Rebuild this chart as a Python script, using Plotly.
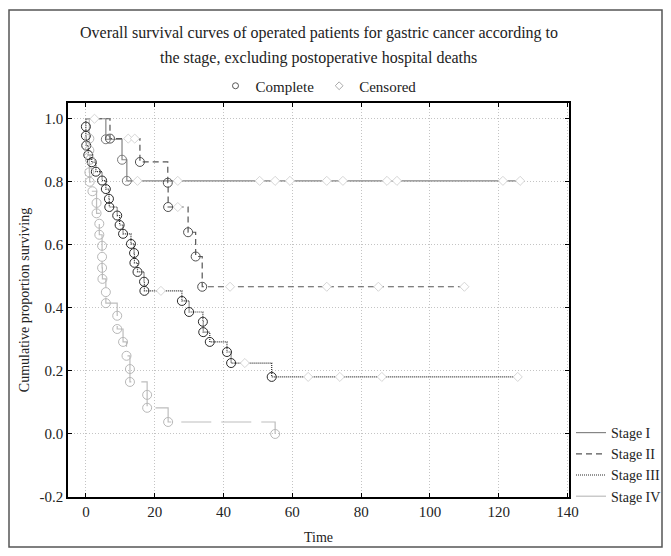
import plotly.graph_objects as go

# ---------------- data ----------------
stage_names = ["Stage I", "Stage II", "Stage III", "Stage IV"]

# Event (complete) times and survival after each event
s1_event_t = [5.8, 10.5, 11.9]
s1_event_s = [0.935, 0.870, 0.803]
s1_cens_t = [2.5, 15.0, 26.7, 50.5, 55.0, 59.3, 70.0, 74.7, 87.5, 90.4, 121.2, 126.2]
s1_cens_s = [1.0, 0.803, 0.803, 0.803, 0.803, 0.803, 0.803, 0.803, 0.803, 0.803, 0.803, 0.803]
s1_end = 126.5

s2_event_t = [7.0, 15.7, 23.8, 23.9, 29.7, 31.9, 33.8]
s2_event_s = [0.937, 0.863, 0.797, 0.720, 0.640, 0.563, 0.467]
s2_cens_t = [12.3, 14.2, 26.7, 41.9, 70.0, 85.0, 110.0]
s2_cens_s = [0.937, 0.937, 0.720, 0.467, 0.467, 0.467, 0.467]
s2_end = 110.0

s3_event_t = [0.0, 0.0, 0.1, 0.7, 1.7, 2.9, 4.7, 5.8, 6.7, 6.8, 9.1, 9.8, 10.8, 13.1,
              14.0, 14.1, 15.0, 16.9, 17.0, 27.9, 30.0, 34.0, 34.1, 36.0, 41.0, 42.2, 54.0]
s3_event_s = [0.975, 0.946, 0.915, 0.885, 0.862, 0.832, 0.804, 0.777, 0.746, 0.720,
              0.693, 0.663, 0.635, 0.603, 0.574, 0.543, 0.514, 0.483, 0.454, 0.422,
              0.387, 0.356, 0.323, 0.292, 0.260, 0.225, 0.181]
s3_cens_t = [21.8, 46.2, 64.6, 73.8, 86.0, 125.5]
s3_cens_s = [0.454, 0.225, 0.181, 0.181, 0.181, 0.181]
s3_end = 125.5

s4_event_t = [1.0, 1.0, 1.2, 1.0, 1.1, 1.9, 3.1, 3.1, 3.9, 3.9, 4.7, 4.7, 4.7, 4.8,
              5.8, 5.8, 9.1, 9.1, 10.8, 11.8, 12.8, 12.8, 17.8, 17.8, 23.9, 55.0]
s4_event_s = [0.937, 0.900, 0.870, 0.830, 0.800, 0.770, 0.733, 0.700, 0.667, 0.632,
              0.597, 0.562, 0.527, 0.492, 0.450, 0.415, 0.375, 0.333, 0.292, 0.248,
              0.206, 0.165, 0.124, 0.083, 0.038, 0.0]
s4_cens_t = []
s4_cens_s = []
s4_end = 55.0

x_ticks = [0, 20, 40, 60, 80, 100, 120, 140]
y_ticks = [-0.2, 0.0, 0.2, 0.4, 0.6, 0.8, 1.0]
y_tick_text = ["-0.2", "0.0", "0.2", "0.4", "0.6", "0.8", "1.0"]

title_line1 = "Overall survival curves of operated patients for gastric cancer according to"
title_line2 = "the stage, excluding postoperative hospital deaths"

# ---------------- styles ----------------
FONT = "Liberation Serif"
line_colors = ["#858585", "#555555", "#2a2a2a", "#bdbdbd"]
marker_colors = ["#7a7a7a", "#505050", "#2a2a2a", "#b8b8b8"]
dashes = ["solid", "6px,4px", "1px,1px", "30px,10px"]
widths = [1.2, 1.2, 1.2, 1.2]

series = [
    (s1_event_t, s1_event_s, s1_cens_t, s1_cens_s, s1_end),
    (s2_event_t, s2_event_s, s2_cens_t, s2_cens_s, s2_end),
    (s3_event_t, s3_event_s, s3_cens_t, s3_cens_s, s3_end),
    (s4_event_t, s4_event_s, s4_cens_t, s4_cens_s, s4_end),
]

# figure geometry (page body adds an 8px offset)
W, H = 655, 540
ML, MR, MT, MB = 60, 94, 95, 51
PW, PH = W - ML - MR, H - MT - MB


def px_to_paper_x(px):
    return (px - ML) / PW


def px_to_paper_y(py):
    return (H - MB - py) / PH


fig = go.Figure()

# step lines
for i, (et, es, ct, cs, end) in enumerate(series):
    xs = [0.0] + list(et) + [end]
    ys = [1.0] + list(es) + [es[-1]]
    fig.add_trace(go.Scatter(
        x=xs, y=ys, mode="lines", line_shape="hv", name=stage_names[i],
        line=dict(color=line_colors[i], width=widths[i], dash=dashes[i]),
        legend="legend2", hoverinfo="skip"))

# censored markers (white background cuts the line)
for i, (et, es, ct, cs, end) in enumerate(series):
    if len(ct) == 0:
        continue
    fig.add_trace(go.Scatter(
        x=ct, y=cs, mode="markers", showlegend=False,
        marker=dict(symbol="diamond", size=7, color="white",
                    line=dict(color="#d6d6d6", width=1))))

# complete (event) markers
for i, (et, es, ct, cs, end) in enumerate(series):
    fig.add_trace(go.Scatter(
        x=et, y=es, mode="markers", showlegend=False,
        marker=dict(symbol="circle-open", size=9,
                    color=marker_colors[i], line=dict(width=1))))

# top legend entries
fig.add_trace(go.Scatter(
    x=[None], y=[None], mode="markers", name="Complete", legend="legend",
    marker=dict(symbol="circle-open", size=6, color="#555555", line=dict(width=1))))
fig.add_trace(go.Scatter(
    x=[None], y=[None], mode="markers", name="Censored", legend="legend",
    marker=dict(symbol="diamond", size=6, color="white",
                line=dict(color="#aaaaaa", width=1))))

axis_common = dict(
    showline=True, linecolor="black", linewidth=1.5, mirror="ticks",
    ticks="inside", ticklen=4, tickcolor="black", tickwidth=1,
    showgrid=True, gridcolor="#c4c4c4", griddash="1px,2px", gridwidth=1,
    zeroline=False, automargin=False,
    tickfont=dict(family=FONT, size=15, color="#222"),
)

fig.update_xaxes(range=[-5.2, 140.4], tickvals=x_ticks,
                 title=dict(text="Time", font=dict(family=FONT, size=14, color="#222"),
                            standoff=13),
                 **axis_common)
fig.update_yaxes(range=[-0.2, 1.05], tickvals=y_ticks, ticktext=y_tick_text,
                 title=dict(text="Cumulative proportion surviving",
                            font=dict(family=FONT, size=14, color="#222"), standoff=7),
                 **axis_common)

fig.update_layout(
    width=W, height=H,
    margin=dict(l=ML, r=MR, t=MT, b=MB, autoexpand=False),
    paper_bgcolor="white", plot_bgcolor="white",
    font=dict(family=FONT, size=13, color="#222"),
    legend=dict(orientation="h", x=0.5, xanchor="center", y=px_to_paper_y(78),
                yanchor="middle",
                font=dict(family=FONT, size=15, color="#222"),
                itemwidth=30, bgcolor="rgba(0,0,0,0)"),
    legend2=dict(x=px_to_paper_x(563), xanchor="left", y=px_to_paper_y(409),
                 yanchor="top",
                 font=dict(family=FONT, size=14, color="#222"),
                 itemwidth=30, tracegroupgap=0, bgcolor="rgba(0,0,0,0)"),
    annotations=[
        dict(text=title_line1, xref="paper", yref="paper", x=0.5, y=px_to_paper_y(25),
             showarrow=False, xanchor="center", yanchor="middle",
             font=dict(family=FONT, size=16, color="#222")),
        dict(text=title_line2, xref="paper", yref="paper", x=0.5, y=px_to_paper_y(50),
             showarrow=False, xanchor="center", yanchor="middle",
             font=dict(family=FONT, size=16, color="#222")),
    ],
    shapes=[dict(type="rect", xref="paper", yref="paper",
                 x0=px_to_paper_x(1), x1=px_to_paper_x(654),
                 y0=px_to_paper_y(539), y1=px_to_paper_y(2),
                 line=dict(color="#555555", width=1.5), layer="below")],
)

fig.write_html("out.html")
